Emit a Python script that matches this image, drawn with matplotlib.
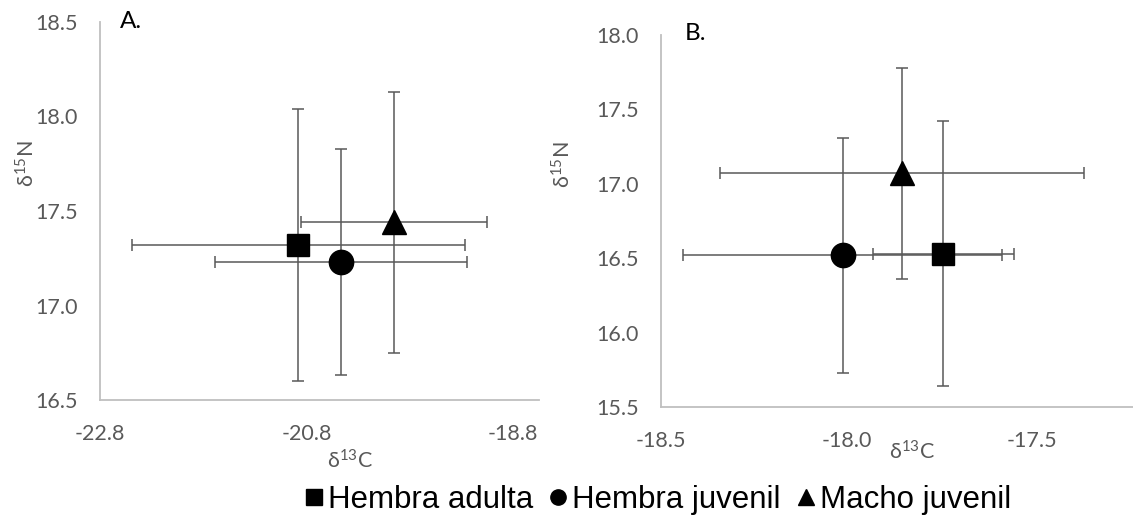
import matplotlib
matplotlib.use("Agg")
import matplotlib.pyplot as plt
from matplotlib.lines import Line2D
from matplotlib.ticker import FormatStrFormatter

# Groups and their marker shapes
groups = ["Hembra adulta", "Hembra juvenil", "Macho juvenil"]
markers = ["s", "o", "^"]
marker_sizes = [16.5, 17.5, 17]

# Panel A: mean and SD of d13C / d15N
a_d13c = [-20.88, -20.47, -19.95]
a_d13c_sd = [1.61, 1.22, 0.90]
a_d15n = [17.32, 17.23, 17.44]
a_d15n_sd = [0.72, 0.60, 0.69]

# Panel B: mean and SD of d13C / d15N
b_d13c = [-17.74, -18.01, -17.85]
b_d13c_sd = [0.19, 0.43, 0.49]
b_d15n = [16.53, 16.52, 17.07]
b_d15n_sd = [0.89, 0.79, 0.71]

a_xticks = [-22.8, -20.8, -18.8]
a_yticks = [16.5, 17.0, 17.5, 18.0, 18.5]
b_xticks = [-18.5, -18.0, -17.5]
b_yticks = [15.5, 16.0, 16.5, 17.0, 17.5, 18.0]

plt.rcParams["mathtext.default"] = "regular"

TICK_FONT = ["Lato", "DejaVu Sans"]
GREY = "#595959"
SPINE = "#BFBFBF"

W, H = 1133, 516
fig = plt.figure(figsize=(W / 100, H / 100), dpi=100)


def px_axes(left, top, right, bottom):
    return fig.add_axes([left / W, 1 - bottom / H, (right - left) / W, (bottom - top) / H])


def style(ax, xticks, yticks, xlim, ylim, xfmt):
    ax.set_xlim(*xlim)
    ax.set_ylim(*ylim)
    ax.set_xticks(xticks)
    ax.set_yticks(yticks)
    ax.xaxis.set_major_formatter(FormatStrFormatter(xfmt))
    ax.yaxis.set_major_formatter(FormatStrFormatter("%.1f"))
    for s in ("top", "right"):
        ax.spines[s].set_visible(False)
    for s in ("left", "bottom"):
        ax.spines[s].set_color(SPINE)
        ax.spines[s].set_linewidth(1.3)
    ax.tick_params(axis="both", length=0, colors=GREY, labelsize=15.5)
    ax.tick_params(axis="x", pad=17)
    ax.tick_params(axis="y", pad=16)
    for lab in ax.get_xticklabels() + ax.get_yticklabels():
        lab.set_family(TICK_FONT)
    ax.patch.set_alpha(0)


def draw(ax, xs, xsd, ys, ysd):
    for x, xe, y, ye, m, ms in zip(xs, xsd, ys, ysd, markers, marker_sizes):
        ax.errorbar(x, y, xerr=xe, yerr=ye, fmt="none", ecolor=GREY,
                    elinewidth=1.1, capsize=4.2, capthick=1.1, zorder=2,
                    clip_on=False)
        ax.plot(x, y, marker=m, ms=ms, color="black", linestyle="none",
                zorder=3, clip_on=False)


axA = px_axes(100, 22, 539, 400)
style(axA, a_xticks, a_yticks, (-22.8, -18.55), (16.5, 18.5), "%.1f")
draw(axA, a_d13c, a_d13c_sd, a_d15n, a_d15n_sd)

axB = px_axes(661, 35, 1133, 407)
style(axB, b_xticks, b_yticks, (-18.5, -17.228), (15.5, 18.0), "%.1f")
draw(axB, b_d13c, b_d13c_sd, b_d15n, b_d15n_sd)


def ftext(x, y, s, **kw):
    fig.text(x / W, 1 - y / H, s, **kw)


# Panel letters
ftext(120, 22, "A.", fontsize=17.5, family=TICK_FONT, color="black", va="center", ha="left")
ftext(685, 34, "B.", fontsize=17.5, family=TICK_FONT, color="black", va="center", ha="left")

# Axis titles
xlab = "δ$^{13}$C"
ylab = "δ$^{15}$N"
ftext(350, 461, xlab, fontsize=15.5, family=TICK_FONT, color=GREY, ha="center", va="center")
ftext(912, 452, xlab, fontsize=15.5, family=TICK_FONT, color=GREY, ha="center", va="center")
ftext(27, 164, ylab, fontsize=15.5, family=TICK_FONT, color=GREY, ha="center", va="center", rotation=90)
ftext(563, 165, ylab, fontsize=15.5, family=TICK_FONT, color=GREY, ha="center", va="center", rotation=90)

# Shared legend
handles = [Line2D([], [], marker=m, color="black", linestyle="none", markersize=11)
           for m in markers]
fig.legend(handles, groups, loc="center", bbox_to_anchor=(658 / W, 1 - 500 / H),
           ncol=3, frameon=False, handlelength=0.6, handletextpad=0.15,
           columnspacing=0.5, prop={"family": ["Liberation Sans", "DejaVu Sans"], "size": 22.5})

fig.savefig("out.png", dpi=100)
